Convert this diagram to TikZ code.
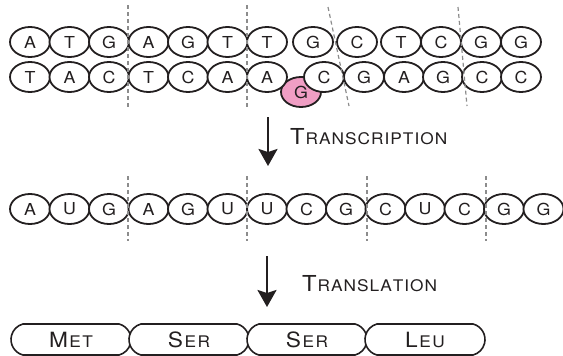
\documentclass[tikz,border=0pt]{standalone}
\usepackage{fontspec}
\setmainfont{TeX Gyre Heros}[FakeStretch=1.08]
\usetikzlibrary{shapes.geometric,shapes.misc,arrows.meta}

\definecolor{ink}{RGB}{35,31,32}
\definecolor{pinkfill}{RGB}{240,158,196}
\definecolor{guidegray}{RGB}{140,140,140}

% letter-spaced text, one glyph at a time
\makeatletter
\newcommand\tracked[2]{\@tfor\tr@ch:=#2\do{\tr@ch\kern#1}\kern-#1}
\makeatother
% hand-made small caps: large initial, tracked smaller rest
% #1 tracking, #2 initial size, #3 small size, #4 initial, #5 rest
\newcommand\capsA[5]{{\fontsize{#2}{#2}\selectfont #4}\kern#1{\fontsize{#3}{#3}\selectfont\tracked{#1}{#5}}}

\begin{document}
\begin{tikzpicture}[x=1pt,y=-1pt,
  nuc/.style={ellipse,draw=ink,line width=1.8pt,fill=white,
    minimum width=40pt,minimum height=30pt,inner sep=0pt,
    font=\fontsize{16.5}{16.5}\selectfont,text=ink},
  mutant/.style={nuc,fill=pinkfill},
  cut/.style={draw=guidegray,line width=1.2pt,dash pattern=on 4pt off 3pt},
  amino/.style={rounded rectangle,rounded rectangle arc length=150,
    draw=ink,line width=1.6pt,fill=white,minimum width=120pt,
    minimum height=31pt,inner sep=0pt,text=ink},
  flow/.style={draw=ink,line width=2.2pt,
    -{Stealth[length=17pt,width=19pt,inset=3pt]}},
  stagetext/.style={anchor=base west,inner sep=0pt,text=ink}]

\useasboundingbox (0,0) rectangle (563,356);

% inserted base on the lower strand (drawn first, partly hidden)
\node[mutant] (ins) at (301,92) {G};

% DNA, upper strand
\foreach \x/\b [count=\i] in {30/A,69.5/T,109/G,148.5/A,188/G,227.5/T,267/T,
    313/G,357/C,401/T,441/C,481/G,521/G}
  \node[nuc] (t\i) at (\x,42) {\b};

% DNA, lower strand
\foreach \x/\b [count=\i] in {30/T,69.5/A,109/C,148.5/T,188/C,227.5/A,267/A,
    324/C,364/G,404/A,443/G,482/C,521/C}
  \node[nuc] (b\i) at (\x,77) {\b};

% codon boundaries on the DNA
\draw[cut] (128,5) -- (128,107);
\draw[cut] (247,5) -- (247,107);
\draw[cut] (328,7) -- (349,106);
\draw[cut] (458,7) -- (467,106);

% transcription step
\coordinate (txtop) at (268,117);
\coordinate (txtip) at (268,166);
\draw[flow] (txtop) -- (txtip);
\node[stagetext] (txlabel) at (290,144) {\capsA{1pt}{22}{16}{T}{RANSCRIPTION}};

% mRNA
\foreach \b [count=\i from 0] in {A,U,G,A,G,U,U,C,G,C,U,C,G,G}
  \node[nuc] (m\i) at ({30+39.5*\i},209) {\b};

% codon boundaries on the mRNA
\foreach \x in {128,247,367,486}
  \draw[cut] (\x,176) -- (\x,241);

% translation step
\coordinate (tltop) at (267,256);
\coordinate (tltip) at (267,307);
\draw[flow] (tltop) -- (tltip);
\node[stagetext] (tllabel) at (302,291.5) {\capsA{1pt}{22}{16}{T}{RANSLATION}};

% protein chain
\node[amino] (p1) at (71,339.5)  {\capsA{1.5pt}{21}{16}{M}{ET}};
\node[amino] (p2) at (189,339.5) {\capsA{1.5pt}{21}{16}{S}{ER}};
\node[amino] (p3) at (307,339.5) {\capsA{1.5pt}{21}{16}{S}{ER}};
\node[amino] (p4) at (425,339.5) {\capsA{1.5pt}{21}{16}{L}{EU}};
\end{tikzpicture}
\end{document}
